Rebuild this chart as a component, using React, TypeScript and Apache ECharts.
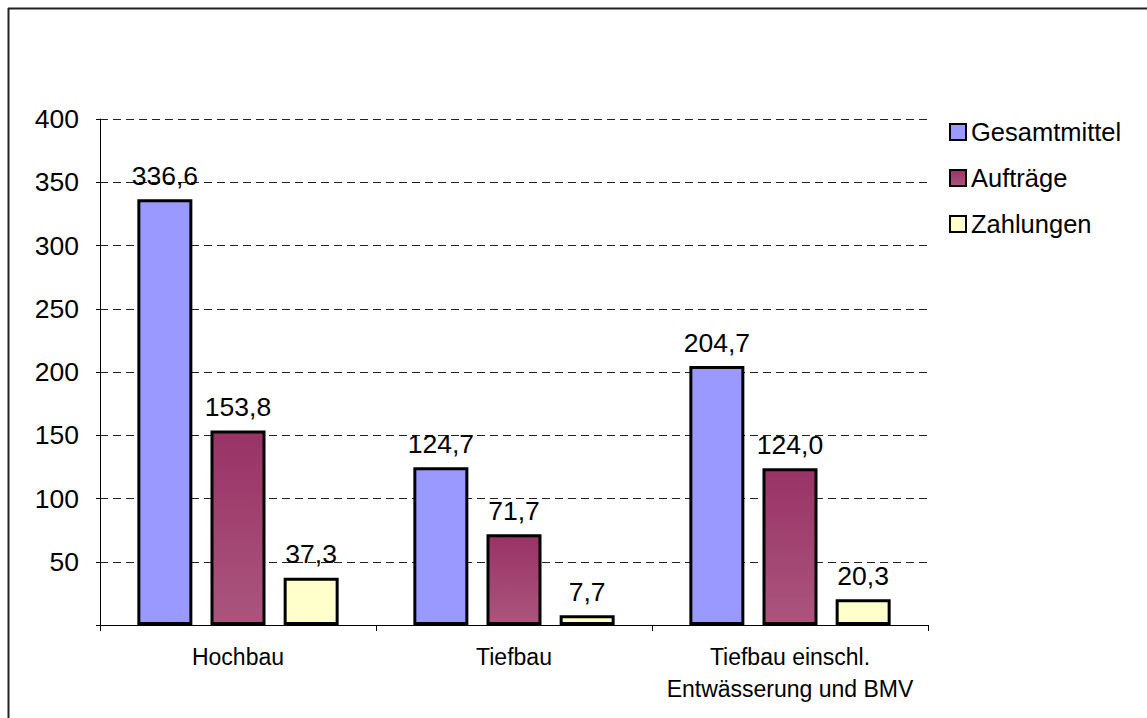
import React, { useEffect, useRef } from "react";
import * as echarts from "echarts";

const categories = ["Hochbau", "Tiefbau", "Tiefbau einschl.\nEntwässerung und BMV"];
const seriesNames = ["Gesamtmittel", "Aufträge", "Zahlungen"];
const gesamtmittel = [336.6, 124.7, 204.7];
const auftraege = [153.8, 71.7, 124.0];
const zahlungen = [37.3, 7.7, 20.3];
const yTicks = [0, 50, 100, 150, 200, 250, 300, 350, 400];

const FONT = "Liberation Sans, Arial, sans-serif";

export default function App() {
  const ref = useRef<HTMLDivElement>(null);
  useEffect(() => {
    if (!ref.current) return;
    const chart = echarts.init(ref.current, undefined, { renderer: "svg" });
    const fmt = (p: any) => Number(p.value).toFixed(1).replace(".", ",");
    const label = {
      show: true,
      position: "top",
      distance: 10,
      formatter: fmt,
      fontFamily: FONT,
      fontSize: 26.5,
      color: "#000",
    };
    const common = {
      type: "bar",
      barWidth: 55,
      barGap: "33%",
      label,
    };
    chart.setOption({
      animation: false,
      backgroundColor: "#fff",
      textStyle: { fontFamily: FONT },
      grid: { left: 100, right: 219, top: 119, bottom: 93 },
      graphic: [
        { type: "line", shape: { x1: 8, y1: 8.5, x2: 1147, y2: 8.5 }, style: { stroke: "#222", lineWidth: 2 } },
        { type: "line", shape: { x1: 8.5, y1: 8, x2: 8.5, y2: 718 }, style: { stroke: "#222", lineWidth: 2 } },
      ],
      legend: {
        orient: "vertical",
        left: 944,
        top: 114,
        itemWidth: 16,
        itemHeight: 16,
        itemGap: 20,
        icon: "rect",
        data: seriesNames,
        textStyle: { fontFamily: FONT, fontSize: 25.5, color: "#000" },
        itemStyle: { borderColor: "#000", borderWidth: 2 },
      },
      xAxis: {
        type: "category",
        data: categories,
        axisLine: { lineStyle: { color: "#000", width: 1 } },
        axisTick: { show: true, length: 6, lineStyle: { color: "#000" } },
        axisLabel: { interval: 0, fontFamily: FONT, fontSize: 23, color: "#000", margin: 16, lineHeight: 32 },
      },
      yAxis: {
        type: "value",
        min: yTicks[0],
        max: yTicks[yTicks.length - 1],
        interval: 50,
        axisLine: { show: true, lineStyle: { color: "#000", width: 1 } },
        axisTick: { show: true, length: 4, lineStyle: { color: "#000" } },
        axisLabel: {
          fontFamily: FONT,
          fontSize: 26.5,
          color: "#000",
          margin: 21,
          formatter: (v: number) => (v === 0 ? "" : String(v)),
        },
        splitLine: { show: true, lineStyle: { color: "#222", type: [8, 5], width: 1 } },
      },
      series: [
        {
          ...common,
          name: seriesNames[0],
          data: gesamtmittel,
          itemStyle: { color: "#9999FF", borderColor: "#000", borderWidth: 3 },
        },
        {
          ...common,
          name: seriesNames[1],
          data: auftraege,
          itemStyle: {
            color: new echarts.graphic.LinearGradient(0, 0, 0, 1, [
              { offset: 0, color: "#993366" },
              { offset: 1, color: "#AA557D" },
            ]),
            borderColor: "#000",
            borderWidth: 3,
          },
        },
        {
          ...common,
          name: seriesNames[2],
          data: zahlungen,
          itemStyle: { color: "#FFFFCC", borderColor: "#000", borderWidth: 3 },
        },
      ],
    });
    return () => chart.dispose();
  }, []);
  return <div ref={ref} style={{ width: 1147, height: 718, position: "absolute", left: 0, top: 0 }} />;
}
